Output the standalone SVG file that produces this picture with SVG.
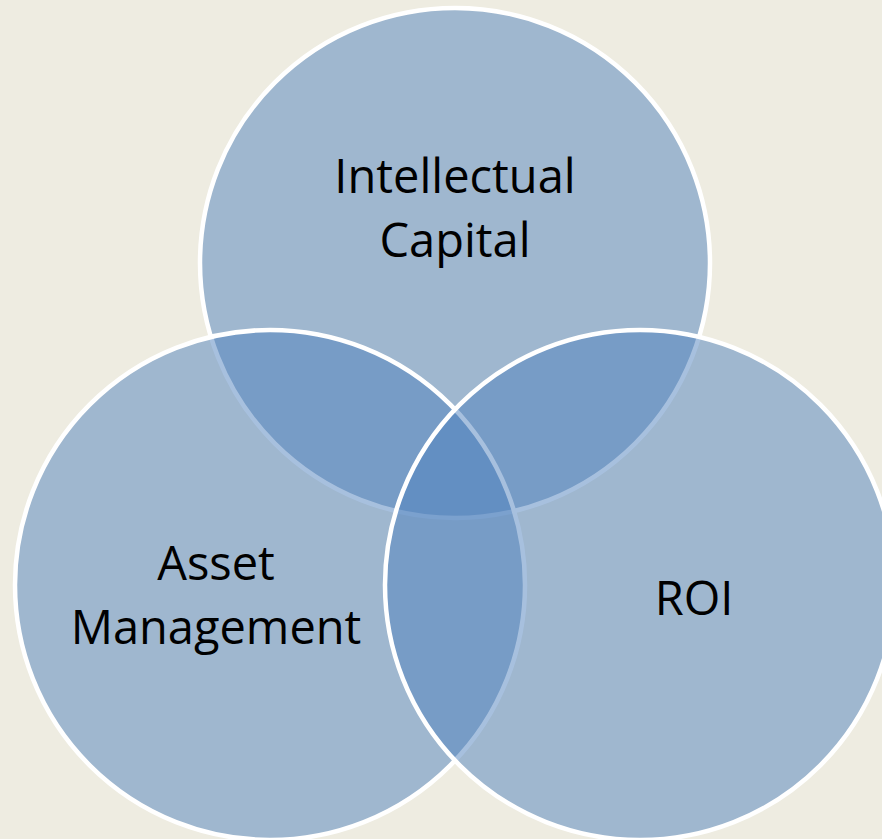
<svg xmlns="http://www.w3.org/2000/svg" width="882" height="839" viewBox="0 0 882 839">
<style>
.c{fill:#4F81BD;fill-opacity:0.5;stroke:#FFFFFF;stroke-width:4.5}
.t{font-family:"Open Sans","DejaVu Sans",sans-serif;font-size:47px;fill:#000000;text-anchor:middle}
</style>
<rect x="0" y="0" width="882" height="839" fill="#EEECE1"/>
<g id="intellectual-capital">
<circle class="c" cx="455" cy="263" r="255"/>
</g>
<g id="asset-management">
<circle class="c" cx="270" cy="585" r="255"/>
</g>
<g id="roi">
<circle class="c" cx="640" cy="585" r="255"/>
</g>
<g id="labels">
<text class="t"><tspan x="455" y="193">Intellectual</tspan><tspan x="455" y="257">Capital</tspan></text>
<text class="t"><tspan x="216" y="580">Asset</tspan><tspan x="216" y="644">Management</tspan></text>
<text class="t" x="694" y="615">ROI</text>
</g>
<g id="connectors"></g>
</svg>
